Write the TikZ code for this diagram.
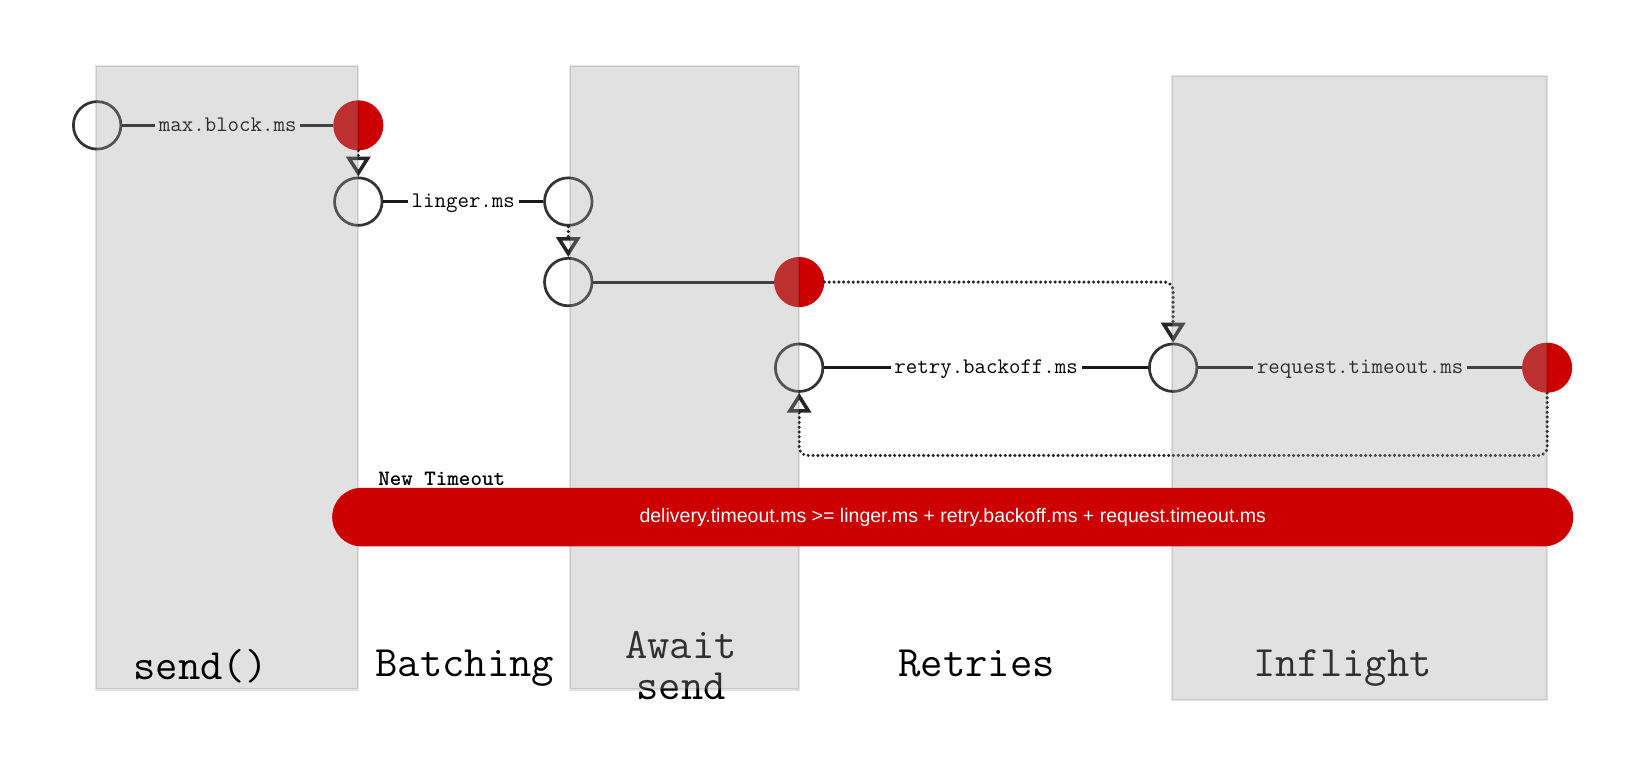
\documentclass[tikz,border=0pt]{standalone}
\usepackage{fontspec}
\setmainfont{Liberation Sans}
\usetikzlibrary{arrows.meta,calc}
\definecolor{redc}{HTML}{CC0000}
\definecolor{boxg}{RGB}{157,157,157}
\definecolor{ink}{HTML}{333333}
\begin{document}
\begin{tikzpicture}[x=1pt,y=-1pt,
 wcirc/.style={circle,draw=ink,line width=2.6pt,minimum size=45.5pt,inner sep=0pt},
 rcirc/.style={circle,fill=redc,minimum size=48pt,inner sep=0pt},
 elab/.style={font=\fontsize{21.3}{22}\selectfont\ttfamily,text=black,inner sep=3.5pt,text height=1ex,text depth=0pt},
 conn/.style={draw=black!90,line width=2.8pt},
 dotc/.style={draw=black!85,line width=3.3pt,line cap=round,dash pattern=on 0pt off 4.6pt,rounded corners=8pt,-{Triangle[open,length=19pt,width=23pt,line width=3.4pt]}},
 lane/.style={fill=boxg,fill opacity=0.306,draw=black,draw opacity=0.11,line width=2pt},
 big/.style={font=\fontsize{41.5}{37}\selectfont\ttfamily,text=black,inner sep=0pt,anchor=base},
]
\useasboundingbox (0,0) rectangle (1568,727);
\fill[white] (0,0) rectangle (1568,727);
% circles
\node[wcirc] (A) at (93,120) {};
\node[rcirc] (B) at (343,120) {};
\node[wcirc] (C) at (343,193) {};
\node[wcirc] (D) at (544,193) {};
\node[wcirc] (E) at (544,270) {};
\node[rcirc] (F) at (765,270) {};
\node[wcirc] (G) at (765,352) {};
\node[wcirc] (H) at (1123,352) {};
\node[rcirc] (I) at (1481,352) {};
% labels
\node[elab] (l1) at ($(A)!0.5!(B)+(0,3)$) {max.block.ms};
\node[elab] (l2) at ($(C)!0.5!(D)+(0,3)$) {linger.ms};
\node[elab] (l3) at ($(G)!0.5!(H)+(0,3)$) {retry.backoff.ms};
\node[elab] (l4) at ($(H)!0.5!(I)+(0,3)$) {request.timeout.ms};
% connectors
\draw[conn] (A) -- (A -| l1.west);
\draw[conn] (B -| l1.east) -- (B);
\draw[conn] (C) -- (C -| l2.west);
\draw[conn] (D -| l2.east) -- (D);
\draw[conn] (E) -- (F);
\draw[conn] (G) -- (G -| l3.west);
\draw[conn] (H -| l3.east) -- (H);
\draw[conn] (H) -- (H -| l4.west);
\draw[conn] (I -| l4.east) -- (I);
\draw[dotc] (B) -- (C);
\draw[dotc] (D) -- (E);
\draw[dotc] (F.east) -| (H.north);
\coordinate (low) at (765,436);
\draw[dotc] (I.south) |- (low) -- (G.south);
% bottom labels
\node[big] (s2) at (445,648) {Batching};
\node[big] (s3) at (652,630) {Await};
\node[big] (s3b) at (652,670) {send};
\node[big] (s4) at (935,648) {Retries};
\node[big] (s5) at (1285,648) {Inflight};
% lanes overlay
\path[lane] (92,63) rectangle (343,660);
\path[lane] (546,63) rectangle (765,660);
\path[lane] (1122,73) rectangle (1481,670);
\node[big] (s1) at (192,650) {send()};
% bar
\node[fill=redc,rounded corners=28pt,minimum width=1188pt,minimum height=56pt,inner sep=0pt,text=white,font=\fontsize{18.7}{20}\selectfont] (bar) at (912,495) {delivery.timeout.ms >= linger.ms + retry.backoff.ms + request.timeout.ms};
\node[font=\fontsize{21}{22}\selectfont\ttfamily\bfseries,anchor=base west,inner sep=0pt] (nt) at (362,465) {New Timeout};
\end{tikzpicture}
\end{document}
